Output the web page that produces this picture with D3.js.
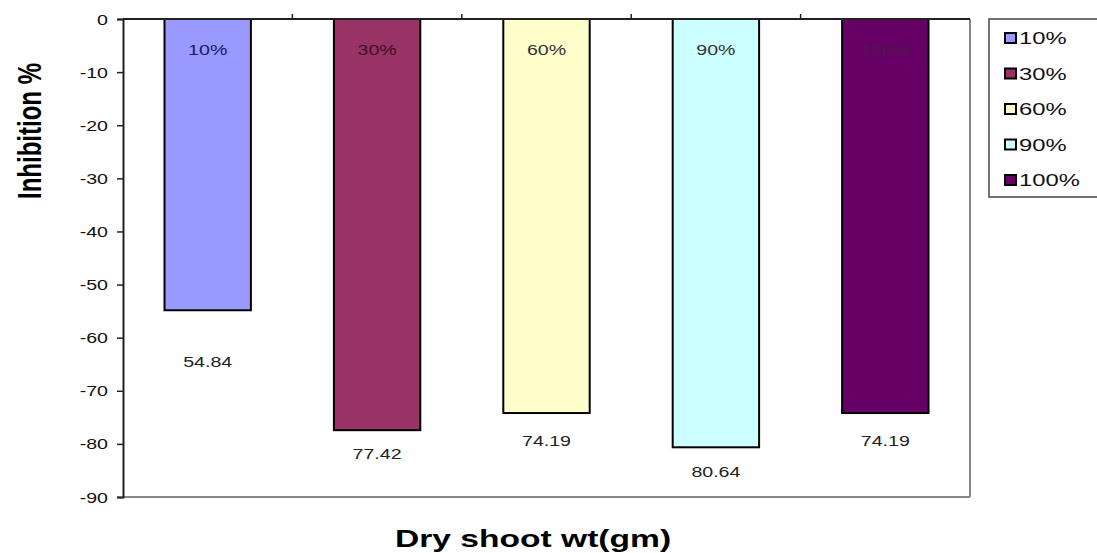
<!DOCTYPE html>
<html>
<head>
<meta charset="utf-8">
<script src="https://cdn.jsdelivr.net/npm/d3@7"></script>
<style>
  body { margin: 0; background: #fff; }
  svg { display: block; font-family: Arial, "Liberation Sans", sans-serif; }
</style>
</head>
<body>
<svg id="chart" width="1097" height="553"></svg>
<script>
const categories = ["10%", "30%", "60%", "90%", "100%"];
const values = [-54.84, -77.42, -74.19, -80.64, -74.19];
const valueLabels = ["54.84", "77.42", "74.19", "80.64", "74.19"];
const yTicks = [0, -10, -20, -30, -40, -50, -60, -70, -80, -90];

const colors = ["#9999ff", "#993366", "#ffffcc", "#ccffff", "#660066"];
const innerTextColors = ["#1a1a66", "#3d0f26", "#333", "#333", "#4a1a4a"];

// the original picture is stretched sideways, so text is widened too
const SX = 1.4;
const stretch = (px, py) => `translate(${px},${py}) scale(${SX},1)`;

const svg = d3.select("#chart");
const margin = {left: 123, top: 19, right: 127, bottom: 56};
const W = 1097, H = 553;
const plotW = W - margin.left - margin.right;
const plotH = H - margin.top - margin.bottom;

const x = d3.scaleBand().domain(categories).range([0, plotW]).paddingInner(0.49).paddingOuter(0.245);
const y = d3.scaleLinear().domain([0, -90]).range([0, plotH]);

const g = svg.append("g").attr("transform", `translate(${margin.left},${margin.top})`);

// plot frame (right and bottom gray)
g.append("line").attr("x1", plotW).attr("x2", plotW).attr("y1", 0).attr("y2", plotH)
  .attr("stroke", "#888").attr("stroke-width", 2);
g.append("line").attr("x1", 0).attr("x2", plotW).attr("y1", plotH).attr("y2", plotH)
  .attr("stroke", "#888").attr("stroke-width", 2);

// bars
g.selectAll("rect.bar")
  .data(values)
  .enter()
  .append("rect")
    .attr("class", "bar")
    .attr("x", (d, i) => x(categories[i]))
    .attr("y", y(0))
    .attr("width", x.bandwidth())
    .attr("height", d => y(d) - y(0))
    .attr("fill", (d, i) => colors[i])
    .attr("stroke", "#000")
    .attr("stroke-width", 2);

// category labels inside bars
g.selectAll("text.cat")
  .data(categories)
  .enter()
  .append("text")
    .attr("transform", d => stretch(x(d) + x.bandwidth() / 2, 36))
    .attr("text-anchor", "middle")
    .attr("font-size", 14)
    .attr("fill", (d, i) => innerTextColors[i])
    .text(d => d);

// value labels below bars (Excel placed the first one lower)
const labelOffset = [52, 24, 28, 25, 28];
g.selectAll("text.val")
  .data(values)
  .enter()
  .append("text")
    .attr("transform", (d, i) => stretch(x(categories[i]) + x.bandwidth() / 2, y(d) + labelOffset[i] + 5))
    .attr("text-anchor", "middle")
    .attr("font-size", 14)
    .attr("fill", "#222")
    .text((d, i) => valueLabels[i]);

// y axis
const yAxis = d3.axisLeft(y).tickValues(yTicks).tickSize(6).tickPadding(10).tickFormat(d => String(d));
const ya = g.append("g").call(yAxis);
ya.select(".domain").attr("stroke", "#222").attr("stroke-width", 2);
ya.selectAll(".tick line").attr("stroke", "#222").attr("stroke-width", 1.5);
ya.selectAll(".tick text")
  .attr("x", null).attr("dy", null)
  .attr("transform", stretch(-15, 5))
  .attr("font-size", 14)
  .attr("fill", "#111");

// top axis line at zero
g.append("line").attr("x1", 0).attr("x2", plotW).attr("y1", y(0)).attr("y2", y(0))
  .attr("stroke", "#222").attr("stroke-width", 2);
g.selectAll("line.xt")
  .data(d3.range(1, categories.length))
  .enter()
  .append("line")
    .attr("x1", i => i * plotW / categories.length)
    .attr("x2", i => i * plotW / categories.length)
    .attr("y1", y(0)).attr("y2", y(0) - 5)
    .attr("stroke", "#222").attr("stroke-width", 1.5);

// axis titles
svg.append("text")
  .attr("transform", `translate(41,131) rotate(-90) scale(1,${SX})`)
  .attr("text-anchor", "middle")
  .attr("font-size", 24)
  .attr("font-weight", "bold")
  .text("Inhibition %");

svg.append("text")
  .attr("transform", stretch(533, 547))
  .attr("text-anchor", "middle")
  .attr("font-size", 24)
  .attr("font-weight", "bold")
  .text("Dry shoot wt(gm)");

// legend
const lg = svg.append("g").attr("transform", "translate(989,19)");
lg.append("rect").attr("x", 0).attr("y", 0).attr("width", 120).attr("height", 178)
  .attr("fill", "#fff").attr("stroke", "#444").attr("stroke-width", 1.5);
const item = lg.selectAll("g.item")
  .data(categories)
  .enter()
  .append("g")
    .attr("transform", (d, i) => `translate(16,${19 + i * 35.5})`);
item.append("rect")
  .attr("x", 0).attr("y", -5).attr("width", 11).attr("height", 10)
  .attr("fill", (d, i) => colors[i])
  .attr("stroke", "#000").attr("stroke-width", 2);
item.append("text")
  .attr("transform", stretch(14, 6))
  .attr("font-size", 17)
  .attr("fill", "#111")
  .text(d => d);
</script>
</body>
</html>
